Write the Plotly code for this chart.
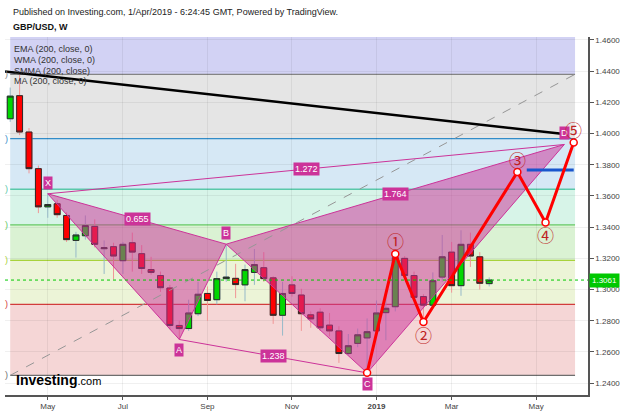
import plotly.graph_objects as go
import pandas as pd

# ---------------- data ----------------
dates = ["2018-04-09","2018-04-16","2018-04-23","2018-04-30","2018-05-07","2018-05-14","2018-05-21","2018-05-28",
         "2018-06-04","2018-06-11","2018-06-18","2018-06-25","2018-07-02","2018-07-09","2018-07-16","2018-07-23",
         "2018-07-30","2018-08-06","2018-08-13","2018-08-20","2018-08-27","2018-09-03","2018-09-10","2018-09-17",
         "2018-09-24","2018-10-01","2018-10-08","2018-10-15","2018-10-22","2018-10-29","2018-11-05","2018-11-12",
         "2018-11-19","2018-11-26","2018-12-03","2018-12-10","2018-12-17","2018-12-24","2018-12-31","2019-01-07",
         "2019-01-14","2019-01-21","2019-01-28","2019-02-04","2019-02-11","2019-02-18","2019-02-25","2019-03-04",
         "2019-03-11","2019-03-18","2019-03-25","2019-04-01"]
opens = [1.4095,1.4243,1.4010,1.3775,1.3530,1.3550,1.3475,1.3315,1.3345,1.3405,1.3262,1.3275,1.3185,1.3300,1.3230,1.3128,
         1.3090,1.3010,1.2770,1.2750,1.2845,1.2975,1.2935,1.3070,1.3072,1.3030,1.3110,1.3140,1.3075,1.2835,1.3030,1.2965,
         1.2838,1.2855,1.2772,1.2735,1.2590,1.2655,1.2690,1.2735,1.2852,1.2890,1.3200,1.3090,1.2955,1.2900,1.3080,1.3240,
         1.3025,1.3290,1.3210,1.3038]
highs = [1.4295,1.4377,1.4035,1.3795,1.3617,1.3575,1.3495,1.3370,1.3475,1.3450,1.3315,1.3300,1.3305,1.3365,1.3285,1.3210,
         1.3115,1.3030,1.2800,1.2935,1.3050,1.3020,1.3115,1.3291,1.3165,1.3160,1.3260,1.3240,1.3085,1.3050,1.3085,1.3005,
         1.2860,1.2880,1.2850,1.2765,1.2715,1.2750,1.2815,1.2930,1.2995,1.3218,1.3215,1.3115,1.2970,1.3110,1.3350,1.3305,
         1.3380,1.3365,1.3240,1.3078]
lows = [1.4075,1.3990,1.3745,1.3490,1.3460,1.3460,1.3305,1.3205,1.3320,1.3270,1.3100,1.3065,1.3100,1.3115,1.3100,1.3095,
        1.2985,1.2745,1.2680,1.2735,1.2830,1.2800,1.2905,1.3050,1.2945,1.2925,1.3030,1.3050,1.2780,1.2705,1.2955,1.2735,
        1.2755,1.2735,1.2700,1.2530,1.2580,1.2630,1.2466,1.2720,1.2675,1.2860,1.3065,1.2935,1.2792,1.2880,1.3050,1.2980,
        1.2960,1.3145,1.3000,1.3020]
closes = [1.4240,1.4010,1.3775,1.3530,1.3545,1.3480,1.3320,1.3350,1.3410,1.3290,1.3268,1.3215,1.3290,1.3240,1.3135,1.3110,
          1.3012,1.2770,1.2750,1.2850,1.2970,1.2930,1.3070,1.3080,1.3032,1.3128,1.3160,1.3070,1.2835,1.2975,1.2975,1.2845,
          1.2812,1.2755,1.2735,1.2590,1.2640,1.2710,1.2730,1.2850,1.2880,1.3205,1.3090,1.2950,1.2900,1.3057,1.3210,1.3025,
          1.3290,1.3215,1.3040,1.3061]
last_price = 1.3061

# Fibonacci retracement box
fib_box_dates = ["2018-04-09", "2019-06-04"]
fib_prices = [1.2450, 1.2905, 1.3187, 1.3415, 1.3643, 1.3967, 1.4380, 1.4900]
fib_fill = ["#f5d6d6", "#ecf4d7", "#daf2d3", "#d7f4e8", "#d6e8f5", "#e5e5e5", "#d2d2f4"]
fib_line = ["#6e6e6e", "#d23c3c", "#a8d23c", "#64c864", "#5ac8aa", "#328cc8", "#848484"]

# XABCD harmonic pattern
pat_labels = ["X", "A", "B", "C", "D"]
pat_dates = ["2018-05-07", "2018-08-13", "2018-09-17", "2018-12-31", "2019-05-27"]
pat_prices = [1.3614, 1.2680, 1.3291, 1.2466, 1.3930]
ratio_labels = {"XB": "0.655", "XD": "1.272", "BD": "1.764", "AC": "1.238"}

# Elliott wave projection
wave_labels = ["", "①", "②", "③", "④", "⑤"]
wave_dates = ["2018-12-31", "2019-01-21", "2019-02-11", "2019-04-22", "2019-05-13", "2019-06-03"]
wave_prices = [1.2466, 1.3228, 1.2792, 1.3753, 1.3430, 1.3943]

# other drawings
trend_dates = ["2018-04-05", "2019-05-25"]
trend_prices = [1.4398, 1.3999]
target_dates = ["2019-04-29", "2019-06-03"]
target_prices = [1.3766, 1.3766]
diag_dates = ["2018-04-09", "2019-06-04"]
diag_prices = [1.2450, 1.4380]

x_ticks = ["2018-05-07", "2018-07-02", "2018-09-03", "2018-11-05", "2019-01-07", "2019-03-04", "2019-05-06"]
x_labels = ["May", "Jul", "Sep", "Nov", "<b>2019</b>", "Mar", "May"]
y_ticks = [1.24, 1.26, 1.28, 1.30, 1.32, 1.34, 1.36, 1.38, 1.40, 1.42, 1.44, 1.46]
y_labels = ["1.2400", "1.2600", "1.2800", "1.3000", "1.3200", "1.3400", "1.3600", "1.3800", "1.4000", "1.4200", "1.4400", "1.4600"]
indicators = ["EMA (200, close, 0)", "WMA (200, close, 0)", "SMMA (200, close)", "MA (200, close, 0)"]

PINK = "rgb(204,51,153)"
fig = go.Figure()

# ---------------- fib bands ----------------
for i in range(len(fib_fill)):
    fig.add_shape(type="rect", xref="x", yref="y", x0=fib_box_dates[0], x1=fib_box_dates[1],
                  y0=fib_prices[i], y1=fib_prices[i + 1], fillcolor=fib_fill[i], line_width=0, layer="below")
for i in range(len(fib_line)):
    fig.add_shape(type="line", xref="x", yref="y", x0=fib_box_dates[0], x1=fib_box_dates[1],
                  y0=fib_prices[i], y1=fib_prices[i], line=dict(color=fib_line[i], width=1.3), layer="below")
    fig.add_annotation(xref="paper", yref="y", x=0.002, y=fib_prices[i], text=")", showarrow=False,
                       font=dict(size=9, color=fib_line[i]), xanchor="center", yanchor="middle")

# ---------------- harmonic triangles ----------------
P = dict(zip(pat_labels, zip(pat_dates, pat_prices)))
def tri(a, b, c):
    xs = [P[a][0], P[b][0], P[c][0], P[a][0]]
    ys = [P[a][1], P[b][1], P[c][1], P[a][1]]
    fig.add_trace(go.Scatter(x=xs, y=ys, mode="lines", fill="toself", fillcolor="rgba(204,51,153,0.52)",
                             line=dict(color=PINK, width=1), hoverinfo="skip"))
tri("X", "A", "B")
tri("B", "C", "D")
for a, b in [("A", "C"), ("X", "D")]:
    fig.add_trace(go.Scatter(x=[P[a][0], P[b][0]], y=[P[a][1], P[b][1]], mode="lines",
                             line=dict(color=PINK, width=1), hoverinfo="skip"))

# dashed diagonal of fib tool
fig.add_trace(go.Scatter(x=diag_dates, y=diag_prices, mode="lines",
                         line=dict(color="rgb(150,150,150)", width=1, dash="dash"), hoverinfo="skip"))

# ---------------- candles ----------------
body_hi = [max(o, c) for o, c in zip(opens, closes)]
body_lo = [min(o, c) for o, c in zip(opens, closes)]
fig.add_trace(go.Candlestick(x=dates, open=opens, high=highs, low=lows, close=closes,
                             increasing=dict(line=dict(color="rgb(150,185,200)", width=1), fillcolor="rgb(0,215,0)"),
                             decreasing=dict(line=dict(color="rgb(240,150,150)", width=1), fillcolor="rgb(255,0,0)"),
                             whiskerwidth=0, hoverinfo="skip"))
fig.add_trace(go.Candlestick(x=dates, open=opens, high=body_hi, low=body_lo, close=closes,
                             increasing=dict(line=dict(color="#2a2a2a", width=1), fillcolor="rgb(0,215,0)"),
                             decreasing=dict(line=dict(color="#2a2a2a", width=1), fillcolor="rgb(255,0,0)"),
                             whiskerwidth=0, hoverinfo="skip"))

# ---------------- lines ----------------
fig.add_trace(go.Scatter(x=trend_dates, y=trend_prices, mode="lines", line=dict(color="black", width=2.5), hoverinfo="skip"))
fig.add_trace(go.Scatter(x=target_dates, y=target_prices, mode="lines", line=dict(color="rgb(25,85,205)", width=3), hoverinfo="skip"))
fig.add_trace(go.Scatter(x=wave_dates, y=wave_prices, mode="lines+markers",
                         line=dict(color="rgb(255,0,0)", width=3),
                         marker=dict(size=7, color="white", line=dict(color="rgb(255,0,0)", width=1.5)), hoverinfo="skip"))

# current price line
fig.add_shape(type="line", xref="paper", yref="y", x0=0, x1=1, y0=last_price, y1=last_price,
              line=dict(color="rgb(0,200,0)", width=1, dash="dot"))

# ---------------- annotations ----------------
def mid(a, b):
    ta, tb = pd.Timestamp(P[a][0]), pd.Timestamp(P[b][0])
    return ta + (tb - ta) / 2, (P[a][1] + P[b][1]) / 2
for key, txt in ratio_labels.items():
    mx, my = mid(key[0], key[1])
    fig.add_annotation(x=mx, y=my, text=txt, showarrow=False, bgcolor=PINK, borderpad=1,
                       font=dict(size=9, color="white"))
for lab, d, p in zip(pat_labels, pat_dates, pat_prices):
    up = lab in ("X", "B", "D")
    fig.add_annotation(x=d, y=p, text=lab, showarrow=False, bgcolor=PINK, borderpad=1,
                       yshift=11 if up else -11, font=dict(size=9, color="white"))
for k, (lab, d, p) in enumerate(zip(wave_labels, wave_dates, wave_prices)):
    if not lab:
        continue
    fig.add_annotation(x=d, y=p, text=lab, showarrow=False, yshift=13 if k % 2 == 1 else -12,
                       font=dict(size=17, color="rgb(190,35,35)", family="Noto Sans CJK JP"))

fig.add_annotation(xref="paper", yref="y", x=1, y=last_price, xshift=1, text="1.3061", showarrow=False,
                   xanchor="left", bgcolor="rgb(0,200,0)", borderpad=2, font=dict(size=8, color="white"))

fig.add_annotation(xref="paper", yref="paper", x=0.010, y=1.0689, text="Published on Investing.com, 1/Apr/2019 - 6:24:45 GMT, Powered by TradingView.",
                   showarrow=False, xanchor="left", yanchor="middle", font=dict(size=9, color="#222"))
fig.add_annotation(xref="paper", yref="paper", x=0.010, y=1.0275, text="<b>GBP/USD, W</b>",
                   showarrow=False, xanchor="left", yanchor="middle", font=dict(size=9, color="#111"))
for k, t in enumerate(indicators):
    fig.add_annotation(xref="paper", yref="paper", x=0.012, y=(400 - 49 - 11 * k) / 363, text=t,
                       showarrow=False, xanchor="left", yanchor="middle", font=dict(size=9, color="#333"))
fig.add_annotation(xref="paper", yref="paper", x=0.015, y=(400 - 385) / 363,
                   text="<b>Investing</b><span style='font-size:11px'>.com</span>",
                   showarrow=False, xanchor="left", yanchor="middle", font=dict(size=14, color="black"))

fig.update_layout(
    width=625, height=416, margin=dict(l=5, r=34, t=37, b=16),
    plot_bgcolor="white", paper_bgcolor="white", showlegend=False,
    boxgap=0.1,
    font=dict(family="Arial, Liberation Sans, sans-serif"),
    xaxis=dict(type="date", range=["2018-04-05 02:45", "2019-06-13 15:36"], tickvals=x_ticks, ticktext=x_labels,
               showgrid=True, gridcolor="rgba(0,0,0,0.06)", showline=True, linecolor="#555", linewidth=1.5,
               ticks="outside", ticklen=3, tickcolor="#555", tickfont=dict(size=8, color="#444"),
               rangeslider=dict(visible=False), zeroline=False),
    yaxis=dict(side="right", range=[1.23241, 1.46190], tickvals=y_ticks, ticktext=y_labels,
               showgrid=True, gridcolor="rgba(0,0,0,0.06)", showline=True, linecolor="#555", linewidth=1.5,
               ticks="outside", ticklen=4, tickcolor="#555", tickfont=dict(size=8, color="#444"), zeroline=False),
)

fig.write_html("out.html")
